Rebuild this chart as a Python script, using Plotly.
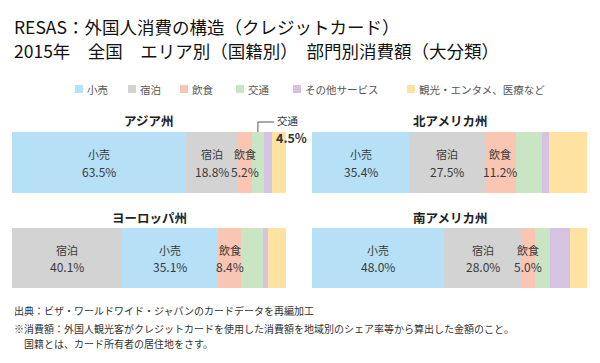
import plotly.graph_objects as go

# ---- data ----
categories = ["小売", "宿泊", "飲食", "交通", "その他サービス", "観光・エンタメ、医療など"]
colors = ["#b5e0f6", "#d3d3d3", "#f9c6b4", "#c9e5c3", "#d5c3e1", "#fde2a2"]
regions = ["アジア州", "北アメリカ州", "ヨーロッパ州", "南アメリカ州"]
asia = [63.5, 18.8, 5.2, 4.5, 3.0, 5.0]
north_america = [35.4, 27.5, 11.2, 9.5, 2.6, 13.8]
europe = [35.1, 40.1, 8.4, 8.0, 1.8, 6.6]
south_america = [48.0, 28.0, 5.0, 5.5, 7.3, 6.2]
region_values = [asia, north_america, europe, south_america]
# stacking order (indices into categories) per region
stack_orders = [[0, 1, 2, 3, 4, 5], [0, 1, 2, 3, 4, 5], [1, 0, 2, 3, 4, 5], [0, 1, 2, 3, 4, 5]]
labelled = [0, 1, 2]  # categories with in-bar labels

W, H = 600, 363
FONT = "Noto Sans CJK JP"

# subplot placement in pixels (left, right, top, bottom)
boxes = [(12, 286, 132, 193), (312, 587, 132, 193), (12, 286, 228, 288), (312, 587, 228, 288)]
# legend swatch left edges (px)
legend_x = [75, 128, 180, 236, 293, 407]
legend_y = 89

fig = go.Figure()
annotations = []
shapes = []

for r, (name, vals, order, box) in enumerate(zip(regions, region_values, stack_orders, boxes)):
    xa = "x" if r == 0 else f"x{r+1}"
    ya = "y" if r == 0 else f"y{r+1}"
    l, rt, t, b = box
    fig.layout[("xaxis" if r == 0 else f"xaxis{r+1}")] = dict(
        domain=[l / W, rt / W], range=[0, 100], visible=False, fixedrange=True, anchor=ya)
    fig.layout[("yaxis" if r == 0 else f"yaxis{r+1}")] = dict(
        domain=[1 - b / H, 1 - t / H], range=[-0.5, 0.5], visible=False, fixedrange=True,
        anchor=xa)
    px_per_unit = (rt - l) / 100.0
    y_per_px = 1.0 / (b - t)
    cum = 0.0
    for ci in order:
        v = vals[ci]
        fig.add_trace(go.Bar(
            x=[v], y=[0], orientation="h", name=categories[ci],
            marker=dict(color=colors[ci], line=dict(width=0)),
            xaxis=xa, yaxis=ya, legendgroup=categories[ci],
            showlegend=False, hoverinfo="name+x"))
        if ci in labelled:
            annotations.append(dict(
                x=cum + v / 2, y=8.5 * y_per_px, xref=xa, yref=ya, showarrow=False,
                yanchor="middle", text=categories[ci],
                font=dict(family=FONT, size=11, color="#3a3a3a")))
            annotations.append(dict(
                x=cum + v / 2, y=-8.5 * y_per_px, xref=xa, yref=ya, showarrow=False,
                yanchor="middle", text=f"{v:.1f}%",
                font=dict(family=FONT, size=12, color="#3a3a3a")))
        if r == 0 and ci == 3:
            cx = cum + v / 2
            ytop = 1 - t / H
            yup = ytop + 10 / H
            shapes.append(dict(type="line", xref=xa, yref="paper", x0=cx, x1=cx,
                               y0=ytop, y1=yup, line=dict(color="#555", width=1)))
            shapes.append(dict(type="line", xref=xa, yref="paper", x0=cx,
                               x1=cx + 16 / px_per_unit,
                               y0=yup, y1=yup, line=dict(color="#555", width=1)))
            annotations.append(dict(
                x=cx + 17 / px_per_unit, y=yup + 2 / H, xref=xa, yref="paper", xanchor="left",
                yanchor="middle", showarrow=False, text=categories[ci],
                font=dict(family=FONT, size=10.5, color="#333")))
            annotations.append(dict(
                x=cx + 16 / px_per_unit, y=yup - 15 / H, xref=xa, yref="paper",
                xanchor="left", yanchor="middle", showarrow=False, text=f"<b>{v:.1f}%</b>",
                font=dict(family=FONT, size=12.5, color="#333")))
        cum += v
    # region title
    annotations.append(dict(
        x=50, y=1 - (t - 11) / H, xref=xa, yref="paper", showarrow=False,
        text=f"<b>{name}</b>", yanchor="middle",
        font=dict(family=FONT, size=12.5, color="#222")))

# legend (swatches + labels)
for ci, lx in enumerate(legend_x):
    shapes.append(dict(type="rect", xref="paper", yref="paper",
                       x0=lx / W, x1=(lx + 8) / W,
                       y0=1 - (legend_y + 4) / H, y1=1 - (legend_y - 4) / H,
                       fillcolor=colors[ci], line=dict(width=0)))
    annotations.append(dict(x=(lx + 10) / W, y=1 - legend_y / H, xref="paper", yref="paper",
                            xanchor="left", yanchor="middle", showarrow=False,
                            text=categories[ci],
                            font=dict(family=FONT, size=10.5, color="#555")))

# titles
annotations.append(dict(x=12 / W, y=1 - 26 / H, xref="paper", yref="paper", xanchor="left",
                        yanchor="middle", showarrow=False,
                        text="RESAS：外国人消費の構造（クレジットカード）",
                        font=dict(family=FONT, size=17.5, color="#111")))
annotations.append(dict(x=12 / W, y=1 - 51 / H, xref="paper", yref="paper", xanchor="left",
                        yanchor="middle", showarrow=False,
                        text="2015年　全国　エリア別（国籍別）　部門別消費額（大分類）",
                        font=dict(family=FONT, size=17.5, color="#111")))
# footnotes
foot = [("出典：ビザ・ワールドワイド・ジャパンのカードデータを再編加工", 310),
        ("※消費額：外国人観光客がクレジットカードを使用した消費額を地域別のシェア率等から算出した金額のこと。", 328),
        ("　国籍とは、カード所有者の居住地をさす。", 343)]
for txt, yy in foot:
    annotations.append(dict(x=12 / W, y=1 - yy / H, xref="paper", yref="paper", xanchor="left",
                            yanchor="middle", showarrow=False, text=txt,
                            font=dict(family=FONT, size=10, color="#333")))

fig.update_layout(
    width=W, height=H, margin=dict(l=0, r=0, t=0, b=0),
    paper_bgcolor="white", plot_bgcolor="white",
    barmode="stack", bargap=0, showlegend=False,
    annotations=annotations, shapes=shapes,
    font=dict(family=FONT),
)

fig.write_html("out.html", config={"displayModeBar": False},
               post_script="document.body.style.margin='0px';")
